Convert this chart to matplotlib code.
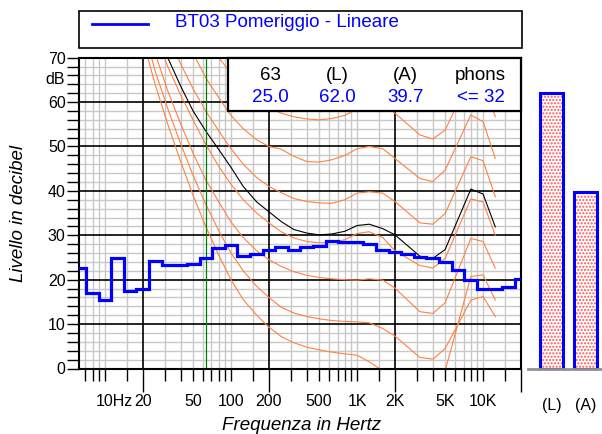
import numpy as np
import matplotlib
matplotlib.use("Agg")
import matplotlib.pyplot as plt
import matplotlib.transforms as mtransforms
from matplotlib.patches import Rectangle
from matplotlib.lines import Line2D
from matplotlib.ticker import FixedLocator, MultipleLocator, NullFormatter

plt.rcParams['font.family'] = ['Liberation Sans', 'DejaVu Sans']
plt.rcParams['hatch.linewidth'] = 1.0

# 1/3 octave spectrum (dB), bands 6.3 Hz .. 20 kHz
band_index = np.arange(-22, 14)          # 10*log10(f/1000)
band_levels = [22.6, 17.0, 15.5, 24.8, 17.4, 17.9, 24.3, 23.2, 23.2, 23.6,
               25.0, 27.2, 27.9, 25.4, 25.7, 26.7, 27.4, 26.6, 27.3, 27.7,
               28.7, 28.5, 28.6, 28.0, 26.6, 26.2, 25.7, 25.2, 24.8, 24.0,
               22.2, 20.0, 18.0, 17.8, 18.3, 20.1]

# equal loudness contours
contour_hz = [20, 25, 31.5, 40, 50, 63, 80, 100, 125, 160, 200, 250, 315, 400,
              500, 630, 800, 1000, 1250, 1600, 2000, 3150, 4000, 5000, 8000,
              10000, 12500]
phon_0 = [74, 64, 55, 46.5, 39, 32, 25.5, 20, 15.5, 12, 9.3, 7.2, 5.8, 4.8,
          4.2, 3.7, 3.3, 3.0, 1.5, -0.5, -2.5, -5, -5, -0.5, 20.7, 21.1, 15.4]
phon_10 = [77, 67, 58.5, 50.5, 43.5, 37, 31, 26, 22, 18.5, 16, 13.8, 12.5, 11.7,
           11.2, 10.8, 10.6, 10.5, 10.3, 9.0, 7.3, 2.5, 2.1, 4.5, 15.4, 16.2, 11.7]
phon_20 = [80, 71, 62.5, 55, 48.5, 42.5, 37.5, 33, 29.5, 26.5, 24.5, 23, 21.8,
           21, 20.5, 20.2, 20.0, 19.9, 20.2, 19.9, 18.1, 12.8, 12.4, 14.8,
           29.3, 28.6, 22.6]
phon_30 = [84, 75.5, 68, 61.5, 56, 50.5, 45.5, 41.5, 38, 35, 32.8, 30.8, 29.4,
           28.6, 28.3, 28.4, 29.0, 30.4, 30.8, 29.5, 26.5, 23.2, 22.6, 24.8, 38.2,
           37.5, 30]
phon_40 = [90, 82, 75, 68.5, 63, 58, 53.5, 49.5, 46, 43, 41, 39.6, 38.3, 37.6,
           37.3, 37.2, 38, 39.5, 39.8, 39.5, 37.6, 32.8, 32.5, 34.9, 47.7, 46.8,
           38.7]
phon_50 = [98, 91, 84, 77.5, 71, 65.5, 61, 57, 54, 51.5, 50, 49.4, 47.8, 46.6,
           46.5, 47, 48, 49.5, 50, 49.5, 47.3, 42.8, 42.1, 44.7, 57.1, 55.6, 47.3]
phon_60 = [105, 98, 91, 85, 79.5, 74.5, 70, 66.5, 63, 60.5, 58.8, 57.5, 56.7,
           56.2, 56, 56.3, 57, 58.5, 60, 59.5, 57.5, 52.6, 51.7, 53.7, 66, 65, 56.7]
phon_32 = [84, 76.5, 70, 63.5, 58, 53.5, 49.3, 45.3, 41, 37.5, 35.3, 33.1, 31.3,
           30.5, 30.1, 30.3, 30.9, 32.2, 32.5, 31.5, 30.1, 25.3, 24.8, 26.8, 40.4,
           39.3, 31.9]

table_heads = ["63", "(L)", "(A)", "phons"]
table_vals = ["25.0", "62.0", "39.7", "<= 32"]
bar_names = ["(L)", "(A)"]
bar_levels = [62.0, 39.7]
freq_labels = {10: "10Hz", 20: "20", 50: "50", 100: "100", 200: "200", 500: "500",
               1000: "1K", 2000: "2K", 5000: "5K", 10000: "10K"}

W, H = 602, 434
fig = plt.figure(figsize=(W / 100, H / 100), dpi=100)

ax_l, ax_r, ax_t, ax_b = 79, 521, 57.7, 368.5
ax = fig.add_axes([ax_l / W, 1 - ax_b / H, (ax_r - ax_l) / W, (ax_b - ax_t) / H])
ax.set_xscale('log')
ax.set_xlim(6.22, 20000)
ax.set_ylim(0, 70)

# grid: grey minor lines, black major lines drawn on top of them
ax.xaxis.set_major_locator(FixedLocator([20, 200, 2000, 20000]))
minor_x = [m * 10 ** k for k in range(0, 5) for m in (1, 1.5, 3, 4, 5, 6, 7, 8, 9)]
minor_x = [v for v in minor_x if 6.22 < v < 20000]
ax.xaxis.set_minor_locator(FixedLocator(minor_x))
ax.xaxis.set_major_formatter(NullFormatter())
ax.xaxis.set_minor_formatter(NullFormatter())
ax.yaxis.set_major_locator(MultipleLocator(10))
ax.yaxis.set_minor_locator(MultipleLocator(2))
ax.grid(which='minor', color='#c8c8c8', lw=1.0)
ax.set_axisbelow(True)
for f in (20, 200, 2000):
    ax.axvline(f, color='black', lw=1.2, zorder=1)
for lev in range(10, 70, 10):
    ax.axhline(lev, color='black', lw=1.2, zorder=1)

ax.tick_params(axis='x', which='major', length=16.5, width=1, direction='out')
ax.tick_params(axis='x', which='minor', length=8.6, width=1, direction='out')
ax.tick_params(axis='y', which='both', length=8.6, width=1, direction='out',
               labelsize=11.5, pad=1)
ax.yaxis.set_major_formatter(plt.FuncFormatter(lambda v, p: "%d" % v))
for sp in ax.spines.values():
    sp.set_linewidth(1.5)

trans = mtransforms.blended_transform_factory(ax.transData, ax.transAxes)
for f, lab in freq_labels.items():
    if f == 10:
        t = ax.text(f, -0.107, lab, ha='left', va='center', fontsize=11.5)
        t.set_transform(trans + mtransforms.ScaledTranslation(-9 / 100, 0,
                                                               fig.dpi_scale_trans))
    else:
        ax.text(f, -0.107, lab, transform=trans, ha='center', va='center',
                fontsize=11.5)
ax.text(-0.032, 65, "dB", transform=mtransforms.blended_transform_factory(
    ax.transAxes, ax.transData), ha='right', va='center', fontsize=11.5)

# contours
for lev in (phon_0, phon_10, phon_20, phon_30, phon_40, phon_50, phon_60):
    ax.plot(contour_hz, lev, color='#ff8040', lw=0.8, zorder=2)
ax.plot(contour_hz, phon_32, color='black', lw=0.8, zorder=2)
ax.axvline(63, color='green', lw=0.9, zorder=2)

edges = 1000 * 10 ** ((np.append(band_index, band_index[-1] + 1) - 0.5) / 10)
ax.stairs(band_levels, edges, color='blue', lw=2.3, baseline=None, zorder=3)

# info table
ax.add_patch(Rectangle((0.337, 0.8285), 0.663, 0.1715, transform=ax.transAxes,
                       facecolor='white', edgecolor='black', lw=1.6, zorder=5,
                       clip_on=False))
for xpos, h, v in zip([0.432, 0.585, 0.739, 0.909], table_heads, table_vals):
    ax.text(xpos, 0.942, h, transform=ax.transAxes, ha='center', va='center',
            fontsize=13.5, color='black', zorder=6)
    ax.text(xpos, 0.873, v, transform=ax.transAxes, ha='center', va='center',
            fontsize=13.5, color='blue', zorder=6)

# bar axes
ax2 = fig.add_axes([528 / W, 1 - ax_b / H, 74 / W, (ax_b - ax_t) / H])
ax2.set_ylim(0, 70)
ax2.set_xlim(-0.697, 1.48)
ax2.bar([0, 1], bar_levels, width=0.68, color='white', hatch='.....',
        edgecolor='#ff5050', lw=0)
ax2.bar([0, 1], bar_levels, width=0.68, fill=False, edgecolor='blue', lw=2.2)
for s in ('top', 'right', 'left'):
    ax2.spines[s].set_visible(False)
ax2.spines['bottom'].set_color('#909090')
ax2.spines['bottom'].set_linewidth(2)
ax2.set_yticks([])
ax2.set_xticks([0, 1])
ax2.set_xticklabels(bar_names, fontsize=11.5)
ax2.tick_params(axis='x', length=0, pad=21)

# legend box
fig.patches.append(Rectangle((79 / W, 1 - 48 / H), 443 / W, 37 / H,
                             transform=fig.transFigure, facecolor='white',
                             edgecolor='black', lw=1.2))
fig.lines.append(Line2D([91.7 / W, 148.3 / W], [1 - 24 / H, 1 - 24 / H],
                        transform=fig.transFigure, color='blue', lw=2))
fig.text(175 / W, 1 - 22.5 / H, "BT03 Pomeriggio - Lineare", color='blue',
         fontsize=13.5, va='center', ha='left')

fig.text(302 / W, 1 - 425 / H, "Frequenza in Hertz", fontsize=13.5,
         style='italic', ha='center', va='center')
fig.text(19 / W, 1 - 213 / H, "Livello in decibel", fontsize=13.5,
         style='italic', ha='center', va='center', rotation=90)

fig.savefig("out.png", dpi=100)
